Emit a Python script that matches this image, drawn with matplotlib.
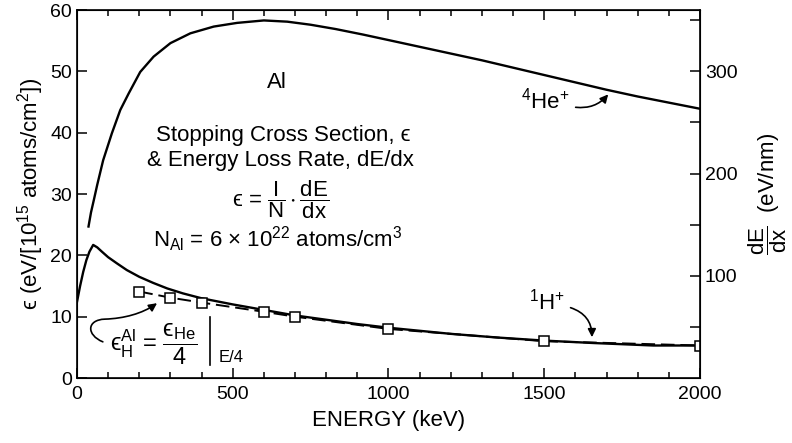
import numpy as np
import matplotlib
matplotlib.use('Agg')
import matplotlib.pyplot as plt
from matplotlib.patches import FancyArrowPatch
from matplotlib.path import Path

plt.rcParams['font.family'] = ['Liberation Sans', 'DejaVu Sans']
plt.rcParams['mathtext.fontset'] = 'custom'
plt.rcParams['mathtext.rm'] = 'Liberation Sans'
plt.rcParams['mathtext.it'] = 'Liberation Sans:italic'
plt.rcParams['mathtext.bf'] = 'Liberation Sans:bold'
plt.rcParams['mathtext.fallback'] = 'stixsans'

# 4He+ stopping cross section (eV/[1e15 atoms/cm2])
he_energy = [37, 45, 54, 65, 84, 112, 139, 166, 203, 246, 300, 364, 439, 514, 600,
             675, 750, 830, 918, 1000, 1100, 1200, 1300, 1400, 1500, 1600, 1700,
             1800, 1900, 2000]
he_eps = [24.7, 27.0, 29.0, 31.5, 35.5, 39.9, 43.7, 46.4, 49.9, 52.4, 54.6, 56.2,
          57.3, 57.9, 58.3, 58.1, 57.6, 56.9, 56.0, 55.1, 54.0, 52.9, 51.8, 50.6,
          49.4, 48.2, 47.0, 45.9, 44.9, 43.9]

# 1H+ stopping cross section
h_energy = [0, 10, 20, 30, 40, 52, 65, 80, 100, 128, 160, 200, 245, 290, 340, 400,
            500, 600, 700, 800, 900, 1000, 1100, 1200, 1350, 1500, 1660, 1850, 2000]
h_eps = [12.4, 15.0, 17.3, 19.2, 20.6, 21.7, 21.3, 20.6, 19.7, 18.7, 17.6, 16.5,
         15.5, 14.6, 13.8, 13.0, 12.0, 11.1, 10.2, 9.5, 8.8, 8.2, 7.7, 7.2, 6.6,
         6.1, 5.7, 5.3, 5.3]

# H values scaled from He (eps_He/4 at E/4)
scaled_energy = [200, 300, 400, 600, 700, 1000, 1500, 2000]
scaled_eps = [14.1, 13.1, 12.3, 10.8, 10.0, 8.0, 6.0, 5.3]

fig = plt.figure(figsize=(7.92, 4.43), dpi=100)
ax = fig.add_axes([0.0972, 0.1467, 0.7866, 0.8307])

ax.plot(he_energy, he_eps, color='black', lw=1.7)
ax.plot(h_energy, h_eps, color='black', lw=1.7)
ax.plot(scaled_energy, scaled_eps, color='black', lw=1.4, dashes=(7, 3),
        marker='s', markersize=7, markerfacecolor='white', markeredgecolor='black',
        markeredgewidth=1.1)

ax.set_xlim(0, 2000)
ax.set_ylim(0, 60)
ax.set_xticks([0, 500, 1000, 1500, 2000])
ax.set_xticks(np.arange(0, 2001, 100), minor=True)
ax.set_yticks(np.arange(0, 61, 10))
ax.tick_params(axis='x', which='both', direction='in', top=True, labelsize=14, pad=6)
ax.tick_params(axis='x', which='major', length=7, width=1.1)
ax.tick_params(axis='x', which='minor', length=4.5, width=1.1)
ax.tick_params(axis='y', which='major', direction='in', length=7, width=1.1, labelsize=14)
for s in ax.spines.values():
    s.set_linewidth(1.2)

ax.set_xlabel('ENERGY (keV)', fontsize=16, labelpad=5)
ax.set_ylabel(r'ϵ (eV/[10$^{15}$ atoms/cm$^2$])', fontsize=16, labelpad=3)

ax2 = ax.twinx()
ax2.set_ylim(0, 360)
ax2.set_yticks([100, 200, 300])
ax2.set_yticks([50, 150, 250, 350], minor=True)
ax2.tick_params(axis='y', which='both', direction='in', length=7, width=1.1, labelsize=14)
ax2.set_ylabel(r'$\dfrac{\mathrm{dE}}{\mathrm{dx}}$  (eV/nm)', fontsize=16, labelpad=6)

# center text block
ax.text(642, 48.1, 'Al', fontsize=16, ha='center', va='center')
ax.text(661, 39.6, 'Stopping Cross Section, ϵ', fontsize=16, ha='center', va='center')
ax.text(652, 35.5, '& Energy Loss Rate, dE/dx', fontsize=16, ha='center', va='center')
ax.text(652, 29.1, r'ϵ = $\dfrac{\mathrm{I}}{\mathrm{N}} \cdot \dfrac{\mathrm{dE}}{\mathrm{dx}}$',
        fontsize=16, ha='center', va='center')
ax.text(645, 22.6, r'N$_{\mathrm{Al}}$ = 6 $\times$ 10$^{22}$ atoms/cm$^3$',
        fontsize=16, ha='center', va='center')

# curve labels
ax.text(1425, 45.3, r'$^{4}\mathrm{He}^{+}$', fontsize=16, ha='left', va='center')
ax.annotate('', xy=(1711, 46.6), xytext=(1592, 44.2),
            arrowprops=dict(arrowstyle='-|>', color='black', lw=1.2,
                            connectionstyle='arc3,rad=0.3', mutation_scale=12))
ax.text(1451, 12.4, r'$^{1}\mathrm{H}^{+}$', fontsize=16, ha='left', va='center')
ax.annotate('', xy=(1653, 6.2), xytext=(1576, 11.6),
            arrowprops=dict(arrowstyle='-|>', color='black', lw=1.2,
                            connectionstyle='arc3,rad=-0.4', mutation_scale=12))

# scaling relation label
ax.text(247, 5.5, r'$\mathrm{ϵ}_{\mathrm{H}}^{\mathrm{Al}}$ = $\dfrac{\mathrm{ϵ}_{\mathrm{He}}}{4}$',
        fontsize=17, ha='center', va='center')
ax.plot([427, 427], [2.1, 9.9], color='black', lw=1.2)
ax.text(455, 2.1, 'E/4', fontsize=12, ha='left', va='bottom')

verts = [(83, 5.9), (30, 7.0), (30, 9.5), (90, 9.6), (150, 9.7), (210, 10.5), (257, 12.2)]
codes = [Path.MOVETO, Path.CURVE4, Path.CURVE4, Path.CURVE4, Path.CURVE4, Path.CURVE4, Path.CURVE4]
arrow = FancyArrowPatch(path=Path(verts, codes), arrowstyle='-|>', color='black',
                        lw=1.2, mutation_scale=12)
ax.add_patch(arrow)

fig.savefig('out.png', dpi=100)
